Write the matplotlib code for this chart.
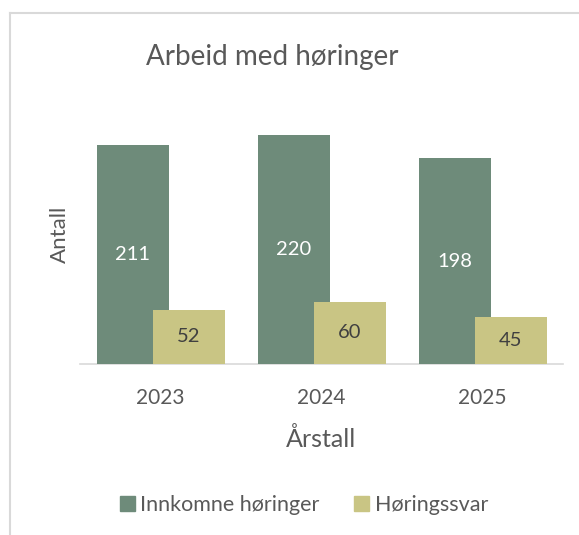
import matplotlib
matplotlib.use("Agg")
import matplotlib.pyplot as plt
import numpy as np
from matplotlib.lines import Line2D
from matplotlib.patches import Patch

years = ["2023", "2024", "2025"]
innkomne = [211, 220, 198]
svar = [52, 60, 45]
series_names = ["Innkomne høringer", "Høringssvar"]

GREEN = "#6E8B7A"
YELLOW = "#C9C584"
TXT = "#595959"

plt.rcParams['font.family'] = ['Lato', 'DejaVu Sans']

W, H = 579, 535
fig = plt.figure(figsize=(W/100, H/100), dpi=100)
fig.patch.set_facecolor("white")

ax_l, ax_r, ax_b, ax_t = 80, 563, 364, 104
ax = fig.add_axes([ax_l/W, 1-ax_b/H, (ax_r-ax_l)/W, (ax_b-ax_t)/H])

x = np.arange(len(years))
bw = 72/161
off = 56/161/2
b1 = ax.bar(x-off, innkomne, bw, color=GREEN, zorder=2)
b2 = ax.bar(x+off, svar, bw, color=YELLOW, zorder=3)

for rect, v in zip(b1, innkomne):
    ax.text(rect.get_x()+rect.get_width()/2, v/2, str(v), ha="center", va="center",
            color="white", fontsize=14.5, zorder=4)
for rect, v in zip(b2, svar):
    ax.text(rect.get_x()+rect.get_width()/2, v/2, str(v), ha="center", va="center",
            color="#404040", fontsize=14.5, zorder=4)

ax.set_xlim(-0.5, 2.5)
ax.set_ylim(0, 250)
ax.set_xticks(x)
ax.set_xticklabels(years, fontsize=15, color=TXT)
ax.tick_params(axis="x", length=0, pad=17)
ax.set_yticks([])
for s in ["top", "right", "left"]:
    ax.spines[s].set_visible(False)
ax.spines["bottom"].set_color("#D9D9D9")
ax.spines["bottom"].set_linewidth(1.2)
ax.spines["bottom"].set_zorder(1)

ax.set_xlabel("Årstall", fontsize=18, color=TXT, labelpad=14)
fig.text(60/W, 1-234/H, "Antall", rotation=90, ha="center", va="center", fontsize=16, color=TXT)

fig.text(272/W, 1-57/H, "Arbeid med høringer", ha="center", va="center", fontsize=20, color=TXT)

handles = [Patch(color=GREEN), Patch(color=YELLOW)]
fig.legend(handles, series_names, loc="center", bbox_to_anchor=(304/W, 1-505/H), ncol=2,
           frameon=False, fontsize=15.5, labelcolor=TXT, handlelength=0.7, handleheight=0.7,
           handletextpad=0.25, columnspacing=1.6)

# chart frame
fc = "#D9D9D9"
fig.add_artist(Line2D([9.5/W, 1.0], [1-12.5/H, 1-12.5/H], color=fc, lw=1.5, transform=fig.transFigure))
fig.add_artist(Line2D([9.5/W, 9.5/W], [0, 1-12.5/H], color=fc, lw=1.5, transform=fig.transFigure))

fig.savefig("out.png", dpi=100)
